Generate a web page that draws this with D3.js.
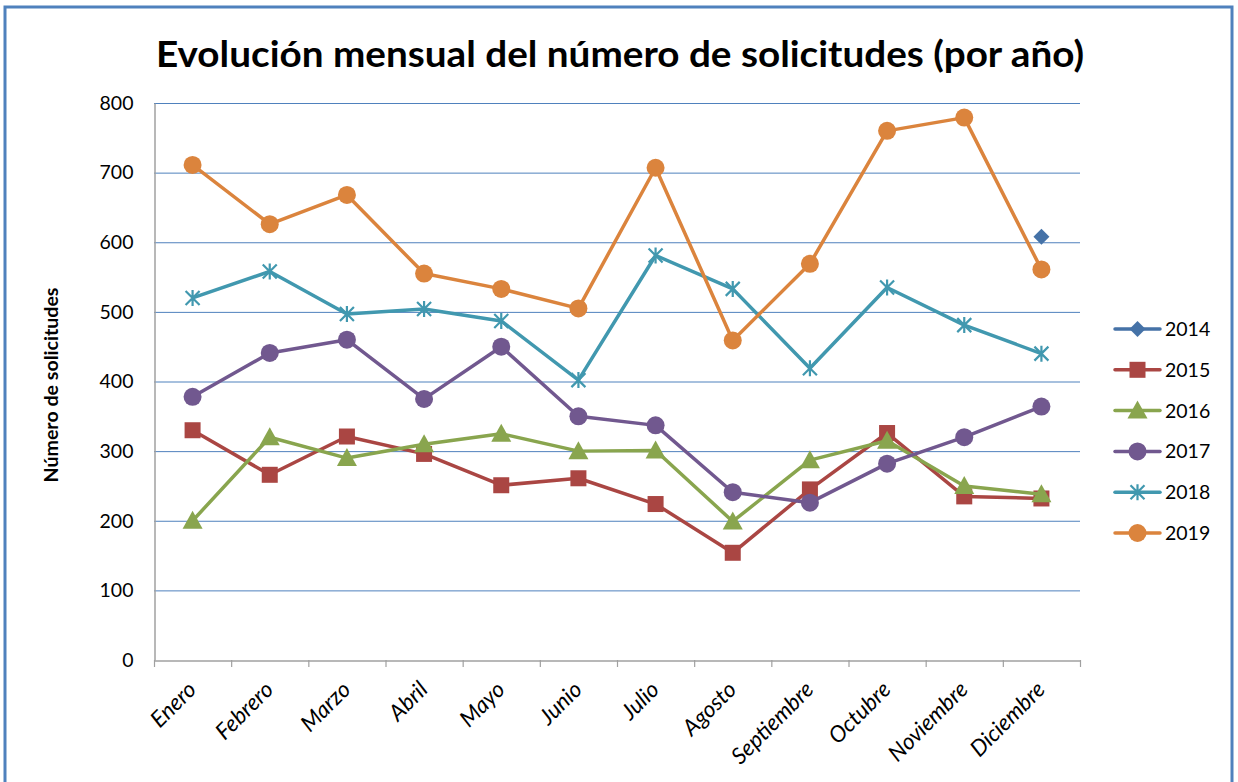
<!DOCTYPE html>
<html><head><meta charset="utf-8">
<script src="https://cdn.jsdelivr.net/npm/d3@7"></script>
<style>body{margin:0;background:#fff;}svg{display:block;}</style>
</head><body>
<script>
const months = ["Enero","Febrero","Marzo","Abril","Mayo","Junio","Julio","Agosto","Septiembre","Octubre","Noviembre","Diciembre"];
const yTicks = [0,100,200,300,400,500,600,700,800];
const years = ["2014","2015","2016","2017","2018","2019"];
const s2014 = [null,null,null,null,null,null,null,null,null,null,null,608];
const s2015 = [330,266,321,296,251,261,224,154,245,326,235,232];
const s2016 = [200,320,290,310,325,300,301,199,287,315,250,238];
const s2017 = [378,441,460,375,450,350,337,241,226,282,320,364];
const s2018 = [520,558,497,504,487,402,581,533,419,535,481,440];
const s2019 = [711,626,668,555,533,505,707,459,569,760,779,561];
const seriesValues = [s2014,s2015,s2016,s2017,s2018,s2019];
const colors = ["#4572A7","#AA4643","#89A54E","#71588F","#4198AF","#DB843D"];
const markers = ["diamond","square","triangle","circle","star","circle"];
const FONT = "Lato, 'Open Sans', sans-serif";

const W=1238,H=782;
const svg=d3.select("body").append("svg").attr("width",W).attr("height",H);
svg.append("rect").attr("x",5).attr("y",7).attr("width",1227).attr("height",790)
  .attr("fill","#fff").attr("stroke","#4F81BD").attr("stroke-width",3);

svg.append("text").attr("x",620).attr("y",67).attr("text-anchor","middle")
  .attr("font-family",FONT).attr("font-weight","bold").attr("font-size",37)
  .attr("textLength",928).attr("lengthAdjust","spacingAndGlyphs")
  .attr("fill","#000").text("Evolución mensual del número de solicitudes (por año)");

const L=154,R=1080,T=103,B=660;
const x=d3.scaleBand().domain(months).range([L,R]);
const y=d3.scaleLinear().domain([0,800]).range([B,T]);

// gridlines
svg.append("g").selectAll("line").data(yTicks.filter(d=>d>0)).join("line")
  .attr("x1",L).attr("x2",R).attr("y1",d=>y(d)+0.5).attr("y2",d=>y(d)+0.5)
  .attr("stroke","#4F81BD").attr("stroke-width",1);

// y axis
const ya=svg.append("g").attr("transform",`translate(${L+0.5},0)`)
  .call(d3.axisLeft(y).tickValues(yTicks).tickSize(0).tickPadding(21));
ya.select(".domain").attr("stroke","#A0A0A0").attr("stroke-width",1.5);
ya.selectAll("text").attr("font-family",FONT).attr("font-size",19.5).attr("fill","#000");

// x axis
const xa=svg.append("g").attr("transform",`translate(0,${B+0.5})`)
  .call(d3.axisBottom(x).tickSize(0).tickFormat(""));
xa.select(".domain").attr("stroke","#A0A0A0").attr("stroke-width",1.5);
const bounds=months.map(m=>x(m)).concat([R]);
svg.append("g").selectAll("line").data(bounds).join("line")
  .attr("x1",d=>d+0.5).attr("x2",d=>d+0.5).attr("y1",B).attr("y2",B+7)
  .attr("stroke","#A0A0A0").attr("stroke-width",1.2);
svg.append("g").selectAll("text").data(months).join("text")
  .attr("transform",d=>`translate(${x(d)+x.bandwidth()/2+5},${B+31}) rotate(-45)`)
  .attr("text-anchor","end").attr("font-family",FONT).attr("font-style","italic")
  .attr("font-size",22.5).attr("fill","#000").text(d=>d);

svg.append("text").attr("transform","translate(58,385) rotate(-90)").attr("text-anchor","middle")
  .attr("font-family",FONT).attr("font-weight","bold").attr("font-size",18)
  .attr("textLength",195).attr("lengthAdjust","spacingAndGlyphs")
  .attr("fill","#000").text("Número de solicitudes");

function drawMarker(g,type,cx,cy,color){
  if(type==="square") g.append("rect").attr("x",cx-8).attr("y",cy-8).attr("width",16).attr("height",16).attr("fill",color);
  else if(type==="circle") g.append("circle").attr("cx",cx).attr("cy",cy).attr("r",9).attr("fill",color);
  else if(type==="triangle") g.append("path").attr("d",`M${cx},${cy-10}L${cx+10},${cy+8}L${cx-10},${cy+8}Z`).attr("fill",color);
  else if(type==="diamond") g.append("path").attr("d",`M${cx},${cy-8}L${cx+8},${cy}L${cx},${cy+8}L${cx-8},${cy}Z`).attr("fill",color);
  else if(type==="star"){
    g.append("path").attr("d",`M${cx-7},${cy-7}L${cx+7},${cy+7}M${cx+7},${cy-7}L${cx-7},${cy+7}M${cx},${cy-8}L${cx},${cy+8}`)
      .attr("stroke",color).attr("stroke-width",2.2).attr("fill","none");
  }
}

const line=d3.line().defined(d=>d.v!=null).x(d=>x(d.m)+x.bandwidth()/2).y(d=>y(d.v));
seriesValues.forEach((vals,i)=>{
  const pts=vals.map((v,j)=>({m:months[j],v}));
  const g=svg.append("g");
  g.append("path").datum(pts).attr("d",line).attr("fill","none").attr("stroke",colors[i])
    .attr("stroke-width",3.5).attr("stroke-linejoin","round");
  pts.filter(p=>p.v!=null).forEach(p=>drawMarker(g,markers[i],x(p.m)+x.bandwidth()/2,y(p.v),colors[i]));
});

// legend
const lg=svg.append("g");
years.forEach((yr,i)=>{
  const ly=329+i*40.8;
  lg.append("line").attr("x1",1115).attr("x2",1160).attr("y1",ly).attr("y2",ly)
    .attr("stroke",colors[i]).attr("stroke-width",3.5).attr("stroke-linecap","round");
  drawMarker(lg,markers[i],1137.5,ly,colors[i]);
  lg.append("text").attr("x",1165).attr("y",ly+7).attr("font-family",FONT)
    .attr("font-size",19.5).attr("fill","#000").text(yr);
});
</script>
</body></html>
